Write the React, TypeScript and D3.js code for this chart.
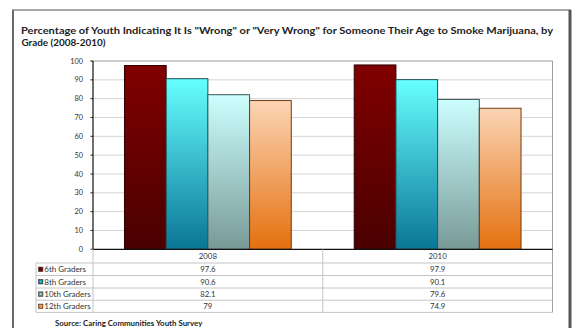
import React from "react";
import * as d3 from "d3";

const years = ["2008", "2010"];
const grades = ["6th Graders", "8th Graders", "10th Graders", "12th Graders"];
const values2008 = [97.6, 90.6, 82.1, 79];
const values2010 = [97.9, 90.1, 79.6, 74.9];
const yTickValues = [0, 10, 20, 30, 40, 50, 60, 70, 80, 90, 100];
const titleLines = [
  'Percentage of Youth Indicating It Is "Wrong" or "Very Wrong" for Someone Their Age to Smoke Marijuana, by',
  "Grade (2008-2010)",
];
const sourceText = "Source: Caring Communities Youth Survey";

const gradTop = ["#800000", "#66ffff", "#ccffff", "#fcd5b5"];
const gradBottom = ["#4a0000", "#0a7595", "#789a97", "#e4700e"];
const strokes = ["#2a0000", "#1f4d55", "#3b5553", "#6e3c17"];
const keyOuter = ["#800000", "#0a7595", "#5f7a78", "#e4700e"];
const keyInner = ["#6a0000", "#31c0d8", "#a9cccb", "#f4a76a"];

const W = 574;
const H = 328;
const FONT = "Lato, 'Open Sans', sans-serif";

export default function App() {
  const valuesByYear = [values2008, values2010];
  const plotL = 93;
  const plotR = 552.5;
  const plotT = 61;
  const plotB = 249.3;
  const x0 = d3.scaleBand<string>().domain(years).range([plotL, plotR]).paddingInner(0).paddingOuter(0);
  const groupFrac = 0.726;
  const x1 = d3
    .scaleBand<string>()
    .domain(grades)
    .range([0, x0.bandwidth() * groupFrac]);
  const y = d3.scaleLinear().domain([0, 100]).range([plotB, plotT]);

  const tableL = 36;
  const rowLines = [263, 275.5, 288, 300.2, 312.4];
  const divider = plotL + x0.bandwidth();

  return (
    <svg
      width={W}
      height={H}
      style={{ position: "absolute", left: 0, top: 0, background: "#fff" }}
      fontFamily={FONT}
    >
      <defs>
        {grades.map((g, i) => (
          <linearGradient key={g} id={`grad${i}`} x1="0" y1="0" x2="0" y2="1">
            <stop offset="0%" stopColor={gradTop[i]} />
            <stop offset="100%" stopColor={gradBottom[i]} />
          </linearGradient>
        ))}
      </defs>
      <rect x={0} y={0} width={W} height={H} fill="#fff" />
      {/* frame */}
      <line x1={13} y1={10} x2={13} y2={H} stroke="#6a6a6a" strokeWidth={2} />
      <line x1={12} y1={10} x2={571} y2={10} stroke="#8a8a8a" strokeWidth={1.5} />
      <line x1={570} y1={10} x2={570} y2={H} stroke="#555" strokeWidth={3} />

      {/* title */}
      <text x={21} y={33.5} fontSize={9.9} fontWeight="bold" fill="#222" textLength={532} lengthAdjust="spacingAndGlyphs">
        {titleLines[0]}
      </text>
      <text x={21.5} y={45.5} fontSize={9.9} fontWeight="bold" fill="#222">
        {titleLines[1]}
      </text>

      {/* gridlines */}
      {yTickValues.map((t) => (
        <line
          key={t}
          x1={plotL - 2.5}
          x2={plotR}
          y1={y(t)}
          y2={y(t)}
          stroke={t === 100 ? "#9a9a9a" : t === 0 ? "none" : "#d4d4d4"}
          strokeWidth={1}
        />
      ))}
      {yTickValues.map((t) => (
        <line key={"tk" + t} x1={plotL - 2.5} x2={plotL} y1={y(t)} y2={y(t)} stroke="#333" />
      ))}
      <line x1={plotR} x2={plotR} y1={plotT} y2={rowLines[4]} stroke="#a0a0a0" />
      {yTickValues.map((t) => (
        <text key={"lb" + t} x={83} y={y(t) + 2.6} fontSize={7.3} textAnchor="end" fill="#333">
          {t}
        </text>
      ))}

      {/* bars */}
      {years.map((yr, yi) => {
        const gx = (x0(yr) as number) + (x0.bandwidth() * (1 - groupFrac)) / 2;
        return (
          <g key={yr} transform={`translate(${gx},0)`}>
            {grades.map((g, gi) => {
              const v = valuesByYear[yi][gi];
              return (
                <rect
                  key={g}
                  x={x1(g) as number}
                  y={y(v)}
                  width={x1.bandwidth()}
                  height={y(0) - y(v)}
                  fill={`url(#grad${gi})`}
                  stroke={strokes[gi]}
                  strokeWidth={1}
                />
              );
            })}
          </g>
        );
      })}

      {/* axes */}
      <line x1={plotL} x2={plotL} y1={plotT} y2={plotB} stroke="#111" strokeWidth={1.2} />
      <line x1={plotL} x2={plotR} y1={plotB} y2={plotB} stroke="#111" strokeWidth={1.2} />

      {/* data table */}
      {rowLines.map((ry) => (
        <line key={"rl" + ry} x1={tableL} x2={plotR} y1={ry} y2={ry} stroke="#c4c4c4" />
      ))}
      <line x1={tableL} x2={tableL} y1={rowLines[0]} y2={rowLines[4]} stroke="#c4c4c4" />
      <line x1={plotL} x2={plotL} y1={plotB} y2={rowLines[4]} stroke="#c4c4c4" />
      <line x1={divider} x2={divider} y1={plotB} y2={rowLines[4]} stroke="#c4c4c4" />
      {years.map((yr) => (
        <text
          key={"yl" + yr}
          x={(x0(yr) as number) + x0.bandwidth() / 2}
          y={259.3}
          fontSize={7.8}
          textAnchor="middle"
          fill="#333"
        >
          {yr}
        </text>
      ))}
      {grades.map((g, gi) => {
        const cy = (rowLines[gi] + rowLines[gi + 1]) / 2;
        return (
          <g key={"row" + g}>
            <rect x={38.5} y={cy - 2.2} width={4.4} height={4.4} fill={keyOuter[gi]} stroke="#333" strokeWidth={0.6} />
            <rect x={39.6} y={cy - 1.1} width={2.2} height={2.2} fill={keyInner[gi]} />
            <text x={44.3} y={cy + 2.8} fontSize={8} fill="#333">
              {g}
            </text>
            {years.map((yr, yi) => (
              <text
                key={yr}
                x={(x0(yr) as number) + x0.bandwidth() / 2}
                y={cy + 2.8}
                fontSize={7.8}
                textAnchor="middle"
                fill="#333"
              >
                {String(valuesByYear[yi][gi])}
              </text>
            ))}
          </g>
        );
      })}

      {/* source */}
      <text x={55} y={326} fontSize={7.9} fontWeight="bold" fill="#222">
        {sourceText}
      </text>
    </svg>
  );
}
